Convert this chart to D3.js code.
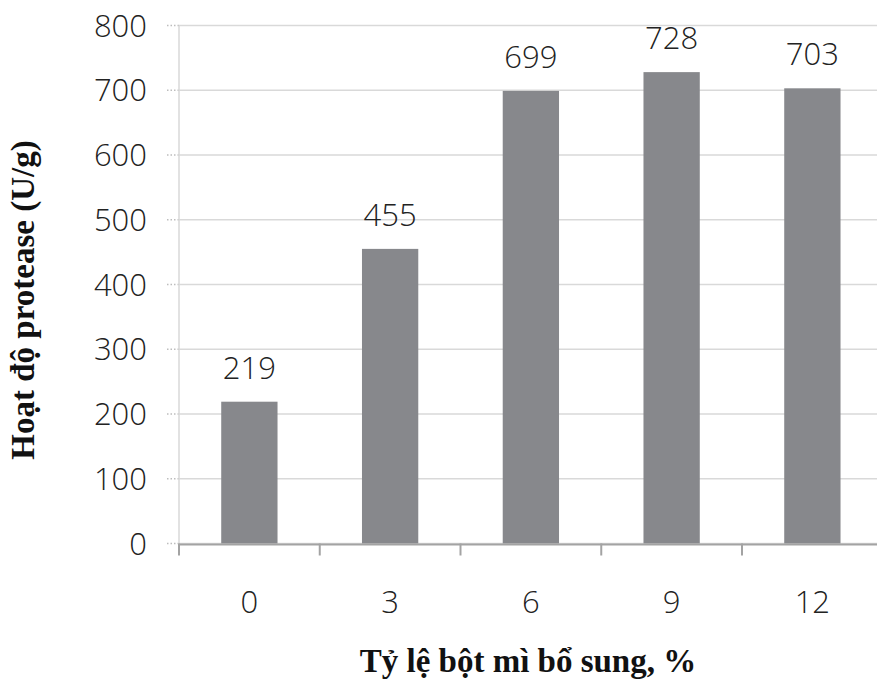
<!DOCTYPE html>
<html>
<head>
<meta charset="utf-8">
<script src="https://cdn.jsdelivr.net/npm/d3@7"></script>
<style>
  body { margin: 0; background: #fff; }
  .num { font-family: "Open Sans", "DejaVu Sans", sans-serif; font-weight: 300; font-size: 31px; fill: #222; }
  .title { font-family: "Liberation Serif", "Times New Roman", serif; font-weight: bold; font-size: 33px; fill: #111; }
</style>
</head>
<body>
<svg id="chart" width="877" height="680"></svg>
<script>
// values
const categories = ["0", "3", "6", "9", "12"];
const values = [219, 455, 699, 728, 703];
const yTicks = [0, 100, 200, 300, 400, 500, 600, 700, 800];

const width = 877, height = 680;
const plotLeft = 179, plotTop = 25.5, plotBottom = 543.5;
const plotRight = 882.75;

const svg = d3.select("#chart");

const x = d3.scaleBand()
    .domain(categories)
    .range([plotLeft, plotRight])
    .paddingInner(0.6)
    .paddingOuter(0.3);

const y = d3.scaleLinear()
    .domain([0, 800])
    .range([plotBottom, plotTop]);

// gridlines + little dotted ticks
yTicks.forEach(t => {
  svg.append("line")
      .attr("x1", plotLeft).attr("x2", width)
      .attr("y1", y(t)).attr("y2", y(t))
      .attr("stroke", "#d9d9d9").attr("stroke-width", 1.5);
  svg.append("line")
      .attr("x1", plotLeft - 12).attr("x2", plotLeft)
      .attr("y1", y(t)).attr("y2", y(t))
      .attr("stroke", "#bdbdbd").attr("stroke-width", 1.5)
      .attr("stroke-dasharray", "1.5,2");
  svg.append("text")
      .attr("class", "num")
      .attr("x", 147).attr("y", y(t) + 11)
      .attr("text-anchor", "end")
      .text(t);
});

// vertical axis line
svg.append("line")
    .attr("x1", plotLeft).attr("x2", plotLeft)
    .attr("y1", plotTop).attr("y2", plotBottom)
    .attr("stroke", "#d9d9d9").attr("stroke-width", 1.5);

// bars
svg.selectAll("rect.bar")
    .data(values)
    .enter().append("rect")
    .attr("class", "bar")
    .attr("x", (d, i) => x(categories[i]))
    .attr("y", d => y(d))
    .attr("width", x.bandwidth())
    .attr("height", d => y(0) - y(d))
    .attr("fill", "#87888c");

// data labels
svg.selectAll("text.lbl")
    .data(values)
    .enter().append("text")
    .attr("class", "num")
    .attr("x", (d, i) => x(categories[i]) + x.bandwidth() / 2)
    .attr("y", d => y(d) - 23)
    .attr("text-anchor", "middle")
    .text(d => d);

// x axis line and ticks at category boundaries
svg.append("line")
    .attr("x1", plotLeft).attr("x2", width)
    .attr("y1", plotBottom + 1).attr("y2", plotBottom + 1)
    .attr("stroke", "#a3a3a3").attr("stroke-width", 2);

categories.forEach(c => {
  const bx = x(c) - x.step() * 0.3;
  svg.append("line")
      .attr("x1", bx).attr("x2", bx)
      .attr("y1", plotBottom).attr("y2", plotBottom + 12)
      .attr("stroke", "#a3a3a3").attr("stroke-width", 2);
  svg.append("text")
      .attr("class", "num")
      .attr("x", x(c) + x.bandwidth() / 2)
      .attr("y", 613)
      .attr("text-anchor", "middle")
      .text(c);
});

// axis titles
svg.append("text")
    .attr("class", "title")
    .attr("x", 528).attr("y", 672)
    .attr("text-anchor", "middle")
    .text("Tỷ lệ bột mì bổ sung, %");

svg.append("text")
    .attr("class", "title")
    .attr("transform", "translate(34,300) rotate(-90)")
    .attr("text-anchor", "middle")
    .text("Hoạt độ protease (U/g)");
</script>
</body>
</html>
